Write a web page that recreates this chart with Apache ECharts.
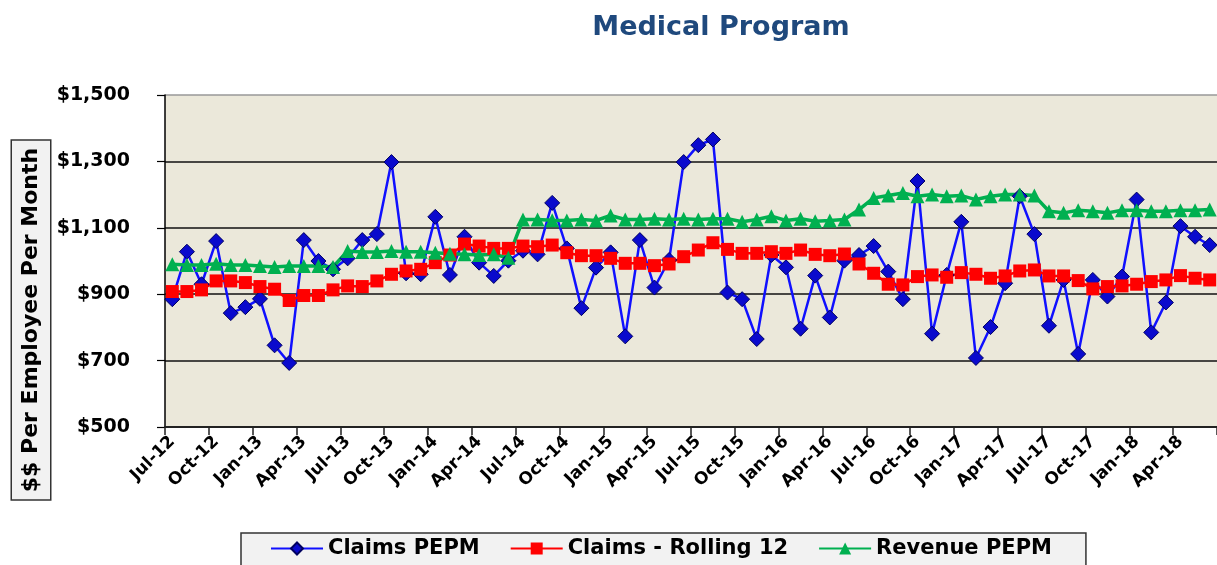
<!DOCTYPE html>
<html>
<head>
<meta charset="utf-8">
<script src="https://cdn.jsdelivr.net/npm/echarts@6/dist/echarts.min.js"></script>
<style>
html,body{margin:0;padding:0;background:#fff;}
#chart{width:1217px;height:565px;}
</style>
</head>
<body>
<div id="chart"></div>
<script>
const months = [
  'Jul-12','Aug-12','Sep-12','Oct-12','Nov-12','Dec-12',
  'Jan-13','Feb-13','Mar-13','Apr-13','May-13','Jun-13','Jul-13','Aug-13','Sep-13','Oct-13','Nov-13','Dec-13',
  'Jan-14','Feb-14','Mar-14','Apr-14','May-14','Jun-14','Jul-14','Aug-14','Sep-14','Oct-14','Nov-14','Dec-14',
  'Jan-15','Feb-15','Mar-15','Apr-15','May-15','Jun-15','Jul-15','Aug-15','Sep-15','Oct-15','Nov-15','Dec-15',
  'Jan-16','Feb-16','Mar-16','Apr-16','May-16','Jun-16','Jul-16','Aug-16','Sep-16','Oct-16','Nov-16','Dec-16',
  'Jan-17','Feb-17','Mar-17','Apr-17','May-17','Jun-17','Jul-17','Aug-17','Sep-17','Oct-17','Nov-17','Dec-17',
  'Jan-18','Feb-18','Mar-18','Apr-18','May-18','Jun-18'
];
const claimsPEPM = [
  885,1028,930,1060,843,861,
  886,746,693,1063,1000,975,1008,1063,1081,1298,963,960,
  1133,958,1073,995,955,1001,1031,1020,1175,1038,858,980,
  1026,773,1063,920,1003,1298,1349,1366,905,885,765,1018,
  981,796,956,830,1001,1018,1045,968,885,1241,781,958,
  1118,708,801,933,1195,1081,805,943,720,943,893,953,
  1185,785,875,1105,1073,1048
];
const claimsRolling12 = [
  908,908,913,940,940,935,
  923,915,881,896,896,913,925,923,940,960,970,975,
  995,1018,1051,1045,1038,1038,1045,1043,1048,1025,1016,1016,
  1008,993,993,986,991,1013,1033,1055,1035,1023,1023,1028,
  1023,1033,1020,1016,1021,991,963,930,928,953,958,951,
  965,960,948,955,970,973,955,955,941,916,923,925,
  930,938,943,956,948,943
];
const revenuePEPM = [
  990,988,988,992,988,988,
  985,982,985,985,985,982,1030,1027,1027,1030,1028,1028,
  1025,1022,1020,1018,1020,1010,1125,1125,1123,1122,1125,1122,
  1137,1125,1125,1127,1125,1127,1125,1127,1127,1118,1125,1135,
  1122,1127,1120,1122,1125,1155,1190,1197,1205,1195,1200,1195,
  1197,1185,1195,1200,1200,1197,1150,1145,1153,1150,1145,1153,
  1153,1150,1150,1153,1153,1155
];
const seriesNames = ['Claims PEPM','Claims - Rolling 12','Revenue PEPM'];
const yTicks = {min:500, max:1500, step:200};

const FONT = '"DejaVu Sans", sans-serif';
const chart = echarts.init(document.getElementById('chart'));
const monthWidth = 14.68;

chart.setOption({
  animation: false,
  backgroundColor: '#ffffff',
  title: {
    text: 'Medical Program',
    left: 716,
    top: 9,
    textAlign: 'center',
    textStyle: {fontFamily: FONT, fontWeight: 'bold', fontSize: 27, color: '#1F497D'}
  },
  legend: {
    data: seriesNames,
    left: 241,
    top: 533,
    padding: [5, 34, 8, 29],
    itemGap: 30,
    itemWidth: 52,
    itemHeight: 15,
    backgroundColor: '#F2F2F2',
    borderColor: '#333',
    borderWidth: 1.5,
    textStyle: {fontFamily: FONT, fontWeight: 'bold', fontSize: 21, color: '#000'}
  },
  grid: {
    left: 165,
    top: 95,
    height: 332,
    width: months.length * monthWidth,
    show: true,
    backgroundColor: '#EBE8DA',
    borderWidth: 0
  },
  graphic: [{
    type: 'text',
    x: 31,
    y: 320,
    rotation: Math.PI / 2,
    style: {
      text: '$$ Per Employee Per Month',
      font: 'bold 22px "DejaVu Sans", sans-serif',
      fill: '#000',
      align: 'center',
      verticalAlign: 'middle',
      backgroundColor: '#F2F2F2',
      borderColor: '#333',
      borderWidth: 1.5,
      padding: [8, 7]
    }
  }],
  xAxis: {
    type: 'category',
    data: months,
    boundaryGap: true,
    axisLine: {lineStyle: {color: '#222', width: 2}},
    axisTick: {show: true, interval: 2, length: 8, lineStyle: {color: '#222', width: 1.5}},
    axisLabel: {
      interval: 2,
      rotate: 45,
      margin: 12,
      fontFamily: FONT,
      fontWeight: 'bold',
      fontSize: 17,
      color: '#000'
    },
    splitLine: {show: false}
  },
  yAxis: {
    type: 'value',
    min: yTicks.min,
    max: yTicks.max,
    interval: yTicks.step,
    axisLine: {show: true, lineStyle: {color: '#000', width: 1.5}},
    axisTick: {show: true, length: 8, lineStyle: {color: '#000', width: 1.2}},
    axisLabel: {
      margin: 35,
      fontFamily: FONT,
      fontWeight: 'bold',
      fontSize: 19,
      color: '#000',
      formatter: v => '$' + v.toLocaleString('en-US')
    },
    splitLine: {show: true, lineStyle: {color: ['#000','#111','#111','#111','#111','#999'], width: 1.5}}
  },
  series: [
    {
      name: seriesNames[0],
      type: 'line',
      data: claimsPEPM,
      symbol: 'diamond',
      symbolSize: 15,
      showAllSymbol: true,
      lineStyle: {color: '#1010FF', width: 2.5},
      itemStyle: {color: '#0A0ACD', borderColor: '#000060', borderWidth: 1}
    },
    {
      name: seriesNames[1],
      type: 'line',
      data: claimsRolling12,
      symbol: 'rect',
      symbolSize: 13,
      showAllSymbol: true,
      lineStyle: {color: '#FF0000', width: 2.5},
      itemStyle: {color: '#FF0000'}
    },
    {
      name: seriesNames[2],
      type: 'line',
      data: revenuePEPM,
      symbol: 'triangle',
      symbolSize: 14,
      showAllSymbol: true,
      lineStyle: {color: '#00B050', width: 3.5},
      itemStyle: {color: '#00B050'}
    }
  ]
});
</script>
</body>
</html>
